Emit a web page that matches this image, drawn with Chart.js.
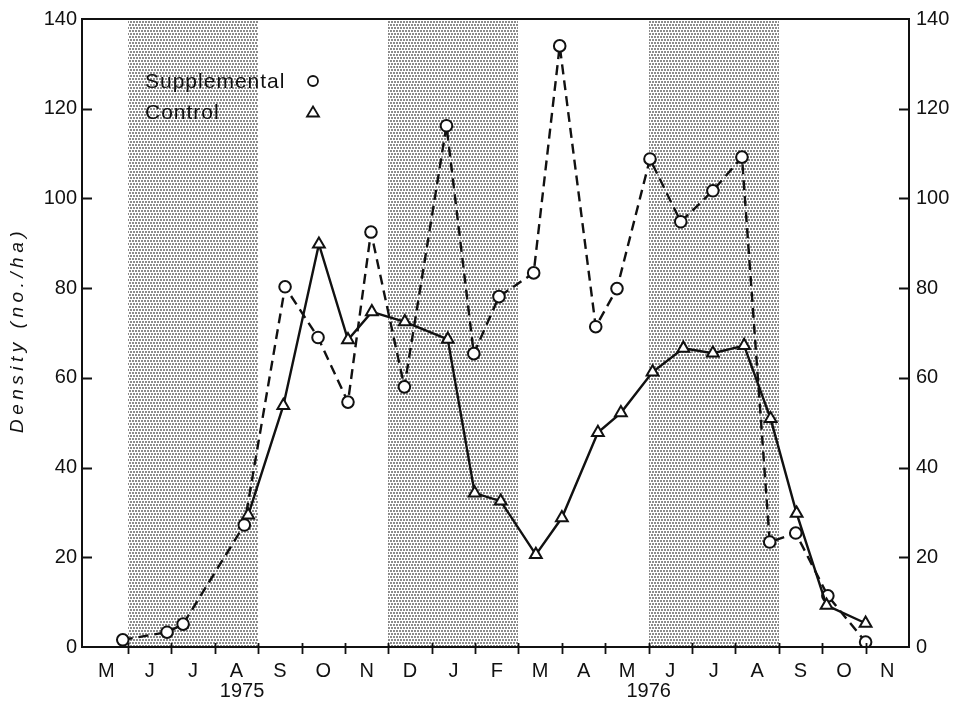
<!DOCTYPE html>
<html>
<head>
<meta charset="utf-8">
<script src="https://cdn.jsdelivr.net/npm/chart.js@4.4.1/dist/chart.umd.min.js"></script>
<style>
  html, body { margin: 0; padding: 0; background: #fff; }
  #wrap { width: 958px; height: 703px; }
</style>
</head>
<body>
<div id="wrap"><canvas id="densityChart" width="958" height="703"></canvas></div>
<script>
// months counted from 1 May 1975 (0) to 1 Nov 1976 (18)
const monthLabels = ["M", "J", "J", "A", "S", "O", "N", "D", "J", "F", "M", "A", "M", "J", "J", "A", "S", "O", "N"];
const yearLabels = ["1975", "1976"];
const yearAt = [3.63, 13.0];
const shadedBands = [[1, 4], [7, 10], [13, 16]];
const yTicks = [0, 20, 40, 60, 80, 100, 120, 140];

const suppMonths = [0.88, 1.9, 2.27, 3.68, 4.62, 5.38, 6.07, 6.6, 7.37, 8.34, 8.97, 9.55, 10.35, 10.95, 11.78, 12.27, 13.03, 13.74, 14.48, 15.15, 15.79, 16.39, 17.13, 18.0];
const suppDensity = [1.6, 3.3, 5.1, 27.2, 80.3, 69.0, 54.6, 92.5, 58.0, 116.2, 65.4, 78.1, 83.4, 134.0, 71.4, 79.9, 108.8, 94.8, 101.7, 109.2, 23.4, 25.4, 11.4, 1.1];

const ctrlMonths = [3.77, 4.58, 5.4, 6.07, 6.62, 7.38, 8.37, 8.99, 9.59, 10.4, 11.0, 11.83, 12.36, 13.09, 13.8, 14.48, 15.2, 15.81, 16.41, 17.1, 18.0];
const ctrlDensity = [29.4, 53.8, 89.8, 68.5, 74.7, 72.5, 68.6, 34.3, 32.5, 20.6, 28.8, 47.8, 52.2, 61.3, 66.6, 65.5, 67.2, 50.9, 29.8, 9.3, 5.3];

const FONT = "'Liberation Sans', Arial, sans-serif";

// stipple pattern for the shaded months
function makeStipple(ctx) {
  const c = document.createElement("canvas");
  c.width = 6; c.height = 6;
  const p = c.getContext("2d");
  p.fillStyle = "#ffffff";
  p.fillRect(0, 0, 6, 6);
  p.fillStyle = "#8c8c8c";
  p.fillRect(0, 0, 2, 2);
  p.fillRect(3, 0, 2, 2);
  p.fillRect(1, 3, 2, 2);
  p.fillRect(4, 3, 2, 2);
  return ctx.createPattern(c, "repeat");
}

const shading = {
  id: "shading",
  beforeDatasetsDraw(chart) {
    const { ctx, chartArea: { top, bottom }, scales: { x } } = chart;
    ctx.save();
    ctx.fillStyle = makeStipple(ctx);
    shadedBands.forEach(([a, b]) => {
      const x0 = Math.round(x.getPixelForValue(a));
      const x1 = Math.round(x.getPixelForValue(b));
      ctx.fillRect(x0, top + 1, x1 - x0, bottom - top - 1);
    });
    ctx.restore();
  },
};

const frame = {
  id: "frame",
  afterDraw(chart) {
    const { ctx, chartArea: { top, bottom, left, right }, scales: { x, y } } = chart;
    ctx.save();
    ctx.strokeStyle = "#111";
    ctx.lineWidth = 2;
    ctx.strokeRect(left, top, right - left, bottom - top);

    // month boundary ticks crossing the bottom axis
    ctx.lineWidth = 1.8;
    for (let m = 1; m < monthLabels.length; m++) {
      const px = Math.round(x.getPixelForValue(m)) + 0.5;
      ctx.beginPath();
      ctx.moveTo(px, bottom - 4);
      ctx.lineTo(px, bottom + 7);
      ctx.stroke();
    }
    // inner y ticks, both sides
    yTicks.slice(1, -1).forEach((v) => {
      const py = Math.round(y.getPixelForValue(v)) + 0.5;
      ctx.beginPath();
      ctx.moveTo(left, py);
      ctx.lineTo(left + 10, py);
      ctx.moveTo(right, py);
      ctx.lineTo(right - 10, py);
      ctx.stroke();
    });

    // years under the months
    ctx.fillStyle = "#111";
    ctx.font = "20px " + FONT;
    ctx.textAlign = "center";
    ctx.textBaseline = "middle";
    yearLabels.forEach((t, i) => {
      ctx.fillText(t, x.getPixelForValue(yearAt[i]), 691);
    });

    // y title
    ctx.save();
    ctx.translate(18, 330);
    ctx.rotate(-Math.PI / 2);
    ctx.font = "italic 19px " + FONT;
    ctx.letterSpacing = "4.5px";
    ctx.fillText("Density (no./ha)", 0, 0);
    ctx.restore();

    // legend
    ctx.font = "21px " + FONT;
    ctx.letterSpacing = "1px";
    ctx.textAlign = "left";
    ctx.fillText("Supplemental", 145, 82);
    ctx.fillText("Control", 145, 113);
    ctx.lineWidth = 1.8;
    ctx.fillStyle = "#fff";
    ctx.beginPath();
    ctx.arc(313, 81, 5, 0, Math.PI * 2);
    ctx.fill();
    ctx.stroke();
    ctx.beginPath();
    ctx.moveTo(313, 106.5);
    ctx.lineTo(319, 116.5);
    ctx.lineTo(307, 116.5);
    ctx.closePath();
    ctx.fill();
    ctx.stroke();
    ctx.restore();
  },
};

const ctx = document.getElementById("densityChart");

new Chart(ctx, {
  type: "line",
  data: {
    datasets: [
      {
        label: "Control",
        data: ctrlMonths.map((m, i) => ({ x: m, y: ctrlDensity[i] })),
        borderColor: "#111",
        borderWidth: 2.4,
        pointStyle: "triangle",
        pointRadius: 6.8,
        pointBorderWidth: 2,
        pointBackgroundColor: "#fff",
        pointBorderColor: "#111",
        tension: 0,
      },
      {
        label: "Supplemental",
        data: suppMonths.map((m, i) => ({ x: m, y: suppDensity[i] })),
        borderColor: "#111",
        borderWidth: 2.4,
        borderDash: [10, 6],
        pointStyle: "circle",
        pointRadius: 5.8,
        pointBorderWidth: 2,
        pointBackgroundColor: "#fff",
        pointBorderColor: "#111",
        tension: 0,
      },
    ],
  },
  options: {
    responsive: false,
    animation: false,
    layout: { padding: { top: 14, right: 0, left: 0, bottom: 0 } },
    scales: {
      x: {
        type: "linear",
        min: -0.06,
        max: 19,
        afterBuildTicks: (s) => {
          s.ticks = monthLabels.map((_, i) => ({ value: i + 0.5 }));
        },
        afterFit: (s) => { s.height = 56; },
        ticks: {
          autoSkip: false,
          maxRotation: 0,
          padding: 12,
          color: "#111",
          font: { family: FONT, size: 20 },
          callback: (val, i) => monthLabels[i],
        },
        grid: { display: false, drawTicks: false },
        border: { display: false },
      },
      y: {
        min: 0,
        max: 140,
        position: "left",
        afterFit: (s) => { s.width = 82; },
        ticks: {
          stepSize: 20,
          padding: 5,
          color: "#111",
          font: { family: FONT, size: 20 },
        },
        grid: { display: false, drawTicks: false },
        border: { display: false },
      },
      y2: {
        min: 0,
        max: 140,
        position: "right",
        afterFit: (s) => { s.width = 49; },
        ticks: {
          stepSize: 20,
          padding: 7,
          color: "#111",
          font: { family: FONT, size: 20 },
        },
        grid: { display: false, drawTicks: false },
        border: { display: false },
      },
    },
    plugins: {
      legend: { display: false },
      tooltip: { enabled: false },
    },
  },
  plugins: [shading, frame],
});
</script>
</body>
</html>
